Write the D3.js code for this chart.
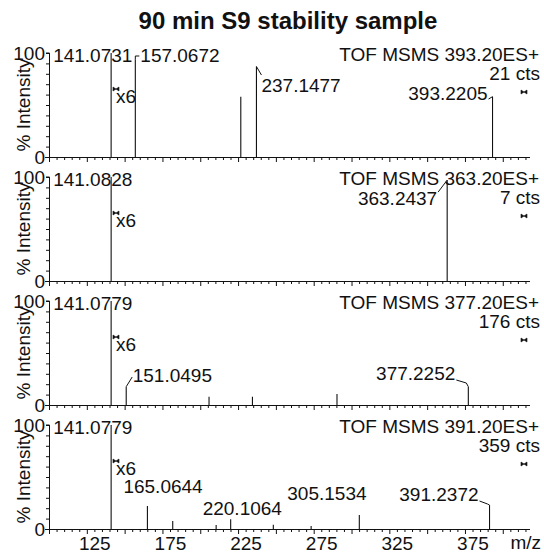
<!DOCTYPE html>
<html>
<head>
<meta charset="utf-8">
<script src="https://cdn.jsdelivr.net/npm/d3@7"></script>
<style>
  body { margin: 0; background: #fff; }
  svg text { font-family: "Liberation Sans", Arial, Helvetica, sans-serif; fill: #111; }
</style>
</head>
<body>
<div id="chart"></div>
<script>
let svgWidth = 544;
let svgHeight = 554;

// Data
let title = "90 min S9 stability sample";
let functionNames = ["TOF MSMS 393.20ES+", "TOF MSMS 363.20ES+", "TOF MSMS 377.20ES+", "TOF MSMS 391.20ES+"];
let countLabels = ["21 cts", "7 cts", "176 cts", "359 cts"];
let magnification = ["x6", "x6", "x6", "x6"];

let mz1 = [141.0731, 157.0672, 226.8, 237.1477, 393.2205];
let int1 = [100, 94, 58, 87, 58];
let lab1 = [true, true, false, true, true];

let mz2 = [141.0828, 363.2437];
let int2 = [100, 97];
let lab2 = [true, true];

let mz3 = [141.0779, 151.0495, 205.8, 234.5, 290.4, 377.2252];
let int3 = [100, 17.6, 8, 8, 10.5, 17.6];
let lab3 = [true, true, false, false, false, true];

let mz4 = [141.0779, 165.0644, 181.8, 210.5, 220.1064, 248.3, 273.3, 305.1534, 391.2372];
let int4 = [100, 22, 7.7, 3.8, 9.3, 4, 3, 13.5, 23];
let lab4 = [true, true, false, false, true, false, false, true, true];

let xTickLabels = [125, 175, 225, 275, 325, 375];

let panels = [
  { mz: mz1, inten: int1, lab: lab1 },
  { mz: mz2, inten: int2, lab: lab2 },
  { mz: mz3, inten: int3, lab: lab3 },
  { mz: mz4, inten: int4, lab: lab4 }
];

// label placement (dx from peak, y from panel baseline, connector points)
let labelLayout = [
  [
    { dx: -58, y: -95, anchor: "start" },
    { dx: 5, y: -95, anchor: "start", conn: [[0, -101], [4, -101]] },
    null,
    { dx: 5, y: -65, anchor: "start", conn: [[5, -82]] },
    { dx: -5, y: -57, anchor: "end", conn: [[-4, -58]] }
  ],
  [
    { dx: -58, y: -95, anchor: "start" },
    { dx: -10, y: -76, anchor: "end", conn: [[-9, -89]] }
  ],
  [
    { dx: -58, y: -95, anchor: "start" },
    { dx: 6.5, y: -23, anchor: "start", conn: [[6, -28]] },
    null, null, null,
    { dx: -13, y: -25, anchor: "end", conn: [[-2, -22], [-12, -25]] }
  ],
  [
    { dx: -58, y: -95, anchor: "start" },
    { dx: -24, y: -36, anchor: "start" },
    null, null,
    { dx: -28, y: -14, anchor: "start" },
    null, null,
    { dx: -72, y: -29, anchor: "start" },
    { dx: -11, y: -28, anchor: "end", conn: [[-2, -25], [-10, -28]] }
  ]
];

let firstBaseline = 157;
let panelStep = 124;
let panelHeight = 104;

let svg = d3.select("#chart")
  .append("svg")
  .attr("width", svgWidth)
  .attr("height", svgHeight);

svg.append("text")
  .attr("x", 288)
  .attr("y", 29)
  .attr("text-anchor", "middle")
  .style("font-size", "24px")
  .style("font-weight", "bold")
  .text(title);

let xScale = d3.scaleLinear()
  .domain([100, 418])
  .range([49, 530]);

function bowtie(g, x, y) {
  g.append("path")
    .attr("d", `M${x - 3},${y - 2} L${x + 3},${y + 2} L${x + 3},${y - 2} L${x - 3},${y + 2} Z`)
    .attr("fill", "#111")
    .attr("stroke", "#111")
    .attr("stroke-width", 0.6);
}

panels.forEach(function(p, i) {
  let base = firstBaseline + i * panelStep;
  let yScale = d3.scaleLinear()
    .domain([0, 100])
    .range([base, base - panelHeight]);

  let g = svg.append("g");

  // x axis
  let xAxis = d3.axisBottom(xScale)
    .tickValues(d3.range(100, 416, 5))
    .tickSize(3)
    .tickFormat("");
  g.append("g")
    .attr("transform", `translate(0, ${base})`)
    .call(xAxis)
    .call(s => s.select(".domain").attr("d", `M45,0.5H530`))
    .call(s => s.selectAll(".tick line")
      .attr("y2", d => d % 25 === 0 ? 5 : 3));

  // y axis
  let yAxis = d3.axisLeft(yScale)
    .tickValues(d3.range(0, 101, 10))
    .tickSize(3)
    .tickFormat(d => (d === 0 || d === 100) ? d : "");
  g.append("g")
    .attr("transform", `translate(${xScale(100)}, 0)`)
    .call(yAxis)
    .call(s => s.select(".domain").attr("d", `M-3,${yScale(100)}H0.5V${base}`))
    .call(s => s.selectAll(".tick text")
      .attr("x", -4)
      .attr("text-anchor", "end")
      .style("font-size", "19px")
      .attr("fill", "#111")
      .style("font-family", "Liberation Sans, Arial, sans-serif"));

  g.selectAll(".tick line, .domain").attr("stroke", "#111");

  // y title
  g.append("text")
    .attr("transform", `translate(30, ${base - 52}) rotate(-90)`)
    .attr("text-anchor", "middle")
    .style("font-size", "19px")
    .text("% Intensity");

  // peaks
  g.selectAll("line.peak")
    .data(p.mz)
    .enter()
    .append("line")
    .attr("class", "peak")
    .attr("x1", d => xScale(d))
    .attr("x2", d => xScale(d))
    .attr("y1", yScale(0))
    .attr("y2", (d, j) => yScale(p.inten[j]))
    .attr("stroke", "#111")
    .attr("stroke-width", 1.1);

  // peak labels
  p.mz.forEach(function(m, j) {
    if (!p.lab[j]) return;
    let lay = labelLayout[i][j];
    let px = xScale(m);
    let py = yScale(p.inten[j]);
    g.append("text")
      .attr("x", px + lay.dx)
      .attr("y", base + lay.y)
      .attr("text-anchor", lay.anchor)
      .style("font-size", "19px")
      .text(m.toFixed(4));
    if (lay.conn) {
      let pts = [[px, py]].concat(lay.conn.map(c => [px + c[0], base + c[1]]));
      g.append("path")
        .attr("d", d3.line()(pts))
        .attr("fill", "none")
        .attr("stroke", "#111")
        .attr("stroke-width", 1);
    }
  });

  // function header
  g.append("text")
    .attr("x", 539)
    .attr("y", base - 96)
    .attr("text-anchor", "end")
    .style("font-size", "19px")
    .text(functionNames[i]);

  g.append("text")
    .attr("x", 540)
    .attr("y", base - 77)
    .attr("text-anchor", "end")
    .style("font-size", "19px")
    .text(countLabels[i]);

  // magnification markers
  bowtie(g, 116, base - 68);
  bowtie(g, 524, base - 65);
  g.append("text")
    .attr("x", 116)
    .attr("y", base - 54)
    .style("font-size", "19px")
    .text(magnification[i]);

  // x tick labels on bottom panel only
  if (i === panels.length - 1) {
    g.selectAll("text.xlab")
      .data(xTickLabels)
      .enter()
      .append("text")
      .attr("class", "xlab")
      .attr("x", d => xScale(d) + 8)
      .attr("y", base + 21)
      .attr("text-anchor", "middle")
      .style("font-size", "19px")
      .text(d => d);

    g.append("text")
      .attr("x", 541)
      .attr("y", base + 20)
      .attr("text-anchor", "end")
      .style("font-size", "19px")
      .text("m/z");
  }
});
</script>
</body>
</html>
